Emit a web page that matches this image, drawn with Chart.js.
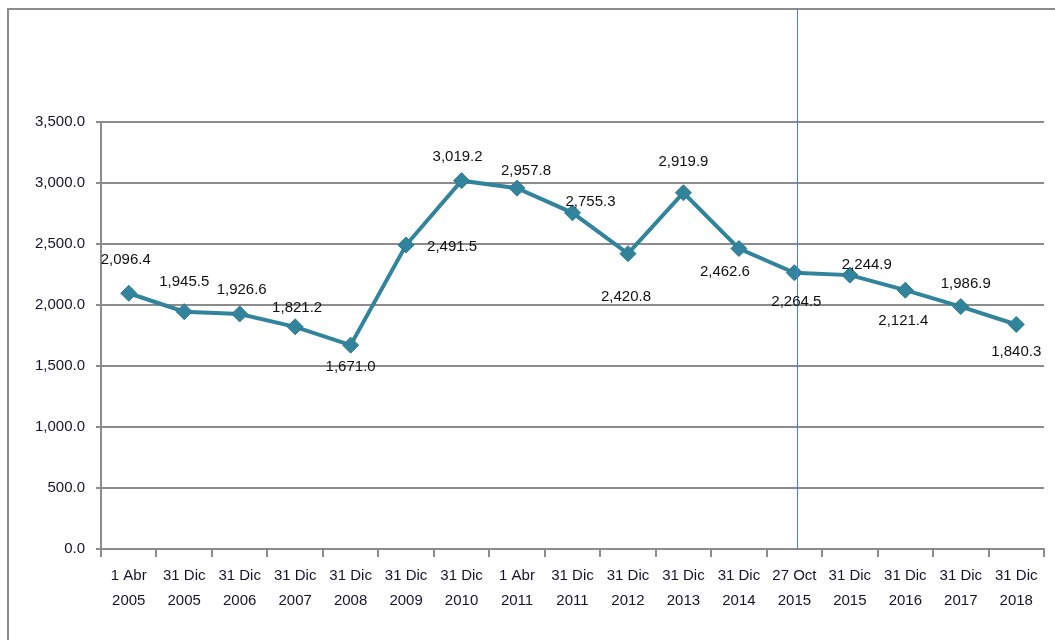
<!DOCTYPE html>
<html>
<head>
<meta charset="utf-8">
<script src="https://cdn.jsdelivr.net/npm/chart.js"></script>
<style>
  html, body { margin: 0; padding: 0; background: #fff; }
  #grafico { display: block; }
</style>
</head>
<body>
<canvas id="grafico" width="1055" height="640"></canvas>
<script>
// datos
const fechas = ['1 Abr', '31 Dic', '31 Dic', '31 Dic', '31 Dic', '31 Dic', '31 Dic', '1 Abr', '31 Dic',
  '31 Dic', '31 Dic', '31 Dic', '27 Oct', '31 Dic', '31 Dic', '31 Dic', '31 Dic'];
const anios = ['2005', '2005', '2006', '2007', '2008', '2009', '2010', '2011', '2011',
  '2012', '2013', '2014', '2015', '2015', '2016', '2017', '2018'];
const valores = [2096.4, 1945.5, 1926.6, 1821.2, 1671.0, 2491.5, 3019.2, 2957.8, 2755.3,
  2420.8, 2919.9, 2462.6, 2264.5, 2244.9, 2121.4, 1986.9, 1840.3];
const marcaVertical = 12; // indice de la fecha 27 Oct 2015

// desplazamiento de cada etiqueta respecto a su punto (solo estilo)
const etiquetaDx = [-3, 0, 2, 2, 0, 46, -4, 9, 18, -2, 0, -14, 2, 17, -2, 5, 0];
const etiquetaDy = [-33, -30, -24, -19, 22, 2, -24, -17, -11, 43, -31, 23, 29, -10, 31, -23, 27];

const fuente = '"Liberation Sans Narrow", "Arial Narrow", "Liberation Sans", sans-serif';
const fmt = v => v.toLocaleString('en-US', { minimumFractionDigits: 1, maximumFractionDigits: 1 });

const marcoPlugin = {
  id: 'marco',
  beforeDraw(chart) {
    const ctx = chart.ctx;
    ctx.save();
    ctx.strokeStyle = '#8c8c8c';
    ctx.lineWidth = 2;
    ctx.beginPath();
    ctx.moveTo(8, 640);
    ctx.lineTo(8, 9);
    ctx.lineTo(1055, 9);
    ctx.stroke();
    ctx.restore();
  }
};

const lineaVertical = {
  id: 'lineaVertical',
  afterDatasetsDraw(chart) {
    const ctx = chart.ctx;
    const x = Math.round(chart.scales.x.getPixelForValue(marcaVertical)) + 3.5;
    ctx.save();
    ctx.strokeStyle = '#4a7fd4';
    ctx.lineWidth = 1;
    ctx.beginPath();
    ctx.moveTo(x, 9);
    ctx.lineTo(x, chart.chartArea.bottom);
    ctx.stroke();
    ctx.restore();
  }
};

const etiquetas = {
  id: 'etiquetas',
  afterDatasetsDraw(chart) {
    const ctx = chart.ctx;
    const meta = chart.getDatasetMeta(0);
    ctx.save();
    ctx.font = '15px ' + fuente;
    ctx.fillStyle = '#111111';
    ctx.textAlign = 'center';
    ctx.textBaseline = 'middle';
    meta.data.forEach((p, i) => {
      ctx.fillText(fmt(valores[i]), p.x + etiquetaDx[i], p.y + etiquetaDy[i]);
    });
    ctx.restore();
  }
};

new Chart(document.getElementById('grafico').getContext('2d'), {
  type: 'line',
  data: {
    labels: fechas.map((f, i) => [f, anios[i]]),
    datasets: [{
      data: valores,
      borderColor: '#31849b',
      backgroundColor: '#31849b',
      borderWidth: 4,
      pointStyle: 'rectRot',
      pointRadius: 8,
      pointBorderWidth: 1,
      pointBorderColor: '#2d7a90',
      tension: 0
    }]
  },
  options: {
    responsive: false,
    animation: false,
    layout: { padding: { top: 122, right: 11, left: 0, bottom: 0 } },
    plugins: {
      legend: { display: false },
      tooltip: { enabled: false }
    },
    scales: {
      x: {
        offset: true,
        grid: { offset: true, drawOnChartArea: false, tickLength: 8, color: '#8c8c8c', lineWidth: 2 },
        border: { color: '#8c8c8c', width: 2 },
        ticks: {
          maxRotation: 0,
          autoSkip: false,
          padding: 6,
          color: '#15152a',
          font: { family: fuente, size: 15, lineHeight: '25px' }
        },
        afterFit: s => { s.height = 640 - 549; }
      },
      y: {
        min: 0,
        max: 3500,
        ticks: {
          stepSize: 500,
          padding: 11,
          color: '#15152a',
          font: { family: fuente, size: 15 },
          callback: v => fmt(v)
        },
        grid: { color: '#8c8c8c', lineWidth: 2, tickLength: 5 },
        border: { color: '#8c8c8c', width: 2 },
        afterFit: s => { s.width = 101; }
      }
    }
  },
  plugins: [marcoPlugin, lineaVertical, etiquetas]
});
</script>
</body>
</html>
